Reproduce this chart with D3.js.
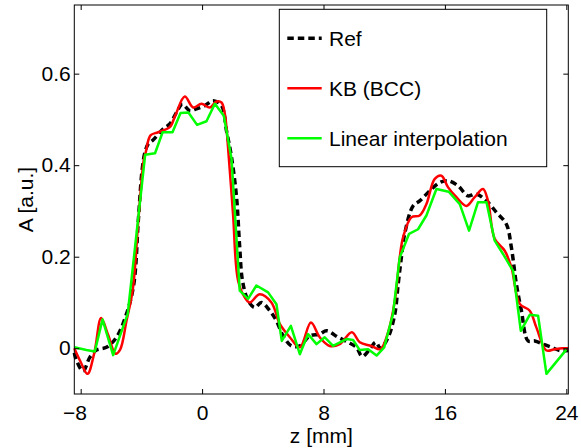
<!DOCTYPE html>
<html>
<head>
<meta charset="utf-8">
<script src="https://cdn.jsdelivr.net/npm/d3@7"></script>
<style>
  body { margin: 0; background: #fff; }
  text { font-family: "Liberation Sans", Arial, sans-serif; }
</style>
</head>
<body>
<svg id="chart" width="581" height="448"></svg>
<script>
// values (z in mm, A in a.u.)
const zRef = [-8.42, -8.27, -7.84, -7.4, -6.96, -6.3, -5.64, -4.98, -4.5, -4.2, -3.95, -3.75, -3.56, -3.23, -2.57, -2.13, -1.69, -1.3, -0.81, -0.37, 0.18, 0.72, 1.28, 1.61, 1.94, 2.27, 2.48, 2.66, 3.03, 3.47, 3.91, 4.46, 4.9, 5.34, 5.89, 6.44, 7.09, 7.75, 8.2, 8.96, 9.62, 10.17, 10.55, 11.05, 11.45, 11.75, 12.26, 12.7, 12.92, 13.13, 13.35, 13.9, 14.34, 15.0, 15.66, 16.2, 16.86, 17.52, 18.07, 18.74, 19.39, 20.05, 20.38, 20.71, 21.04, 21.48, 21.92, 22.47, 23.02, 23.56, 24.13]
const aRef = [-0.01, -0.027, -0.05, -0.02, -0.004, 0.002, 0.024, 0.075, 0.14, 0.28, 0.39, 0.43, 0.446, 0.455, 0.479, 0.49, 0.515, 0.533, 0.519, 0.523, 0.53, 0.541, 0.53, 0.475, 0.417, 0.33, 0.22, 0.148, 0.104, 0.089, 0.1, 0.082, 0.06, 0.027, 0.005, 0.005, 0.027, 0.031, 0.038, 0.024, 0.013, 0.002, -0.018, -0.002, 0.013, 0.0, 0.024, 0.075, 0.14, 0.198, 0.25, 0.311, 0.322, 0.344, 0.362, 0.366, 0.355, 0.333, 0.337, 0.322, 0.297, 0.271, 0.22, 0.14, 0.082, 0.016, 0.016, 0.009, 0.002, -0.005, -0.005]

const zKB = [-8.42, -8.0, -7.55, -7.1, -6.65, -6.2, -5.7, -5.4, -4.98, -4.56, -4.2, -3.85, -3.7, -3.4, -2.9, -2.13, -1.75, -1.14, -0.59, -0.04, 0.51, 0.95, 1.28, 1.5, 1.71, 2.04, 2.37, 2.81, 3.14, 3.8, 4.57, 5.12, 5.78, 6.44, 7.17, 7.75, 8.41, 9.07, 9.87, 10.39, 11.16, 11.75, 12.26, 12.7, 13.02, 13.24, 13.79, 14.34, 14.78, 15.33, 15.77, 16.2, 16.76, 17.42, 17.96, 18.51, 18.84, 19.28, 19.94, 20.38, 20.93, 21.59, 22.03, 22.69, 23.23, 23.78, 24.13]
const aKB = [0.0, -0.03, -0.056, -0.01, 0.066, 0.03, -0.012, -0.003, 0.06, 0.13, 0.28, 0.41, 0.43, 0.465, 0.472, 0.483, 0.51, 0.55, 0.526, 0.534, 0.526, 0.539, 0.537, 0.512, 0.439, 0.293, 0.148, 0.111, 0.1, 0.118, 0.1, 0.053, 0.024, 0.002, 0.056, 0.024, 0.005, 0.009, 0.035, 0.013, 0.005, -0.002, 0.035, 0.104, 0.198, 0.242, 0.286, 0.29, 0.315, 0.37, 0.377, 0.352, 0.33, 0.311, 0.33, 0.348, 0.322, 0.239, 0.213, 0.177, 0.097, 0.082, 0.045, -0.005, -0.002, 0.0, 0.0]

const zLin = [-8.42, -7.62, -7.07, -6.56, -5.86, -4.9, -3.75, -3.1, -2.6, -1.95, -1.42, -0.9, -0.33, 0.29, 0.84, 1.43, 1.94, 2.48, 3.03, 3.58, 4.35, 4.9, 5.25, 5.85, 6.44, 6.98, 7.54, 8.08, 8.63, 9.51, 9.95, 10.39, 10.94, 11.5, 12.0, 12.58, 13.02, 13.64, 14.23, 14.78, 15.44, 16.25, 16.98, 17.59, 18.18, 18.74, 19.28, 19.83, 20.49, 21.0, 21.59, 22.14, 22.69, 24.0]
const aLin = [0.002, -0.004, -0.007, 0.063, -0.015, 0.075, 0.423, 0.426, 0.472, 0.472, 0.514, 0.515, 0.488, 0.496, 0.534, 0.508, 0.414, 0.126, 0.108, 0.137, 0.122, 0.096, 0.016, 0.049, -0.013, 0.031, 0.009, 0.024, 0.005, 0.02, 0.018, -0.004, -0.002, -0.016, 0.002, 0.075, 0.198, 0.25, 0.26, 0.29, 0.348, 0.342, 0.315, 0.257, 0.319, 0.319, 0.235, 0.206, 0.169, 0.038, 0.073, 0.071, -0.056, -0.003]

const xTicks = [-8, 0, 8, 16, 24]
const yTicks = [0, 0.2, 0.4, 0.6]
const legendNames = ["Ref", "KB (BCC)", "Linear interpolation"]

const fs = 21
const plotLeft = 74.3, plotRight = 568.3, plotTop = 5, plotBottom = 394

const svg = d3.select("#chart")

const xScale = d3.scaleLinear().domain([-8.42, 24.13]).range([plotLeft, plotRight])
const yScale = d3.scaleLinear().domain([-0.1, 0.75]).range([plotBottom, plotTop])

const series = [
  { z: zRef, a: aRef, color: "#000", width: 3.5, dash: "6.5,4", curve: d3.curveCatmullRom },
  { z: zKB, a: aKB, color: "#ff0000", width: 2.5, dash: null, curve: d3.curveCatmullRom },
  { z: zLin, a: aLin, color: "#00ff00", width: 2.5, dash: null, curve: d3.curveLinear }
]

const plot = svg.append("g")

// ref first, then KB, linear on top
series.forEach(s => {
  const line = d3.line()
    .x(d => xScale(d[0]))
    .y(d => yScale(d[1]))
    .curve(s.curve)
  plot.append("path")
    .datum(s.z.map((z, i) => [z, s.a[i]]))
    .attr("d", line)
    .attr("fill", "none")
    .attr("stroke", s.color)
    .attr("stroke-width", s.width)
    .attr("stroke-dasharray", s.dash)
    .attr("stroke-linejoin", "round")
})

// axes, ticks pointing inward on all four sides
const xAxis = d3.axisBottom(xScale).tickValues(xTicks).tickSizeInner(-5).tickSizeOuter(0).tickPadding(11)
  .tickFormat(d => d < 0 ? "\u2212" + Math.abs(d) : d)
const yAxis = d3.axisLeft(yScale).tickValues(yTicks).tickSizeInner(-5).tickSizeOuter(0).tickPadding(3.6)
  .tickFormat(d => d === 0 ? "0" : d3.format(".1f")(d))

const gx = svg.append("g").attr("transform", `translate(0,${plotBottom})`).call(xAxis)
const gy = svg.append("g").attr("transform", `translate(${plotLeft},0)`).call(yAxis)
svg.append("g").attr("transform", `translate(0,${plotTop})`)
  .call(d3.axisTop(xScale).tickValues(xTicks).tickSizeInner(-5).tickSizeOuter(0).tickFormat(""))
svg.append("g").attr("transform", `translate(${plotRight},0)`)
  .call(d3.axisRight(yScale).tickValues(yTicks).tickSizeInner(-5).tickSizeOuter(0).tickFormat(""))

svg.selectAll(".domain").remove()
svg.selectAll(".tick line").attr("stroke", "#000").attr("stroke-width", 1)
svg.selectAll(".tick text").attr("font-size", fs).attr("fill", "#000")
  .style("font-family", "'Liberation Sans', Arial, sans-serif")

// minus sign hangs to the left of the centred digits
gx.selectAll(".tick text").filter(d => d < 0)
  .attr("text-anchor", "end").attr("x", fs * 0.278)

svg.append("rect")
  .attr("x", plotLeft).attr("y", plotTop)
  .attr("width", plotRight - plotLeft).attr("height", plotBottom - plotTop)
  .attr("fill", "none").attr("stroke", "#000").attr("stroke-width", 1)

svg.append("text")
  .attr("x", (plotLeft + plotRight) / 2).attr("y", 443)
  .attr("text-anchor", "middle").attr("font-size", fs)
  .text("z [mm]")

svg.append("text")
  .attr("transform", `translate(33,${(plotTop + plotBottom) / 2}) rotate(-90)`)
  .attr("text-anchor", "middle").attr("font-size", fs)
  .text("A [a.u.]")

// legend
const legend = svg.append("g").attr("id", "legend")
legend.append("rect")
  .attr("x", 279.3).attr("y", 9.3).attr("width", 267.4).attr("height", 157.4)
  .attr("fill", "#fff").attr("stroke", "#000").attr("stroke-width", 1)

legendNames.forEach((name, i) => {
  const y = 38.3 + i * 50
  legend.append("line")
    .attr("x1", 287.3).attr("x2", 321.7).attr("y1", y).attr("y2", y)
    .attr("stroke", series[i].color)
    .attr("stroke-width", series[i].width)
    .attr("stroke-dasharray", series[i].dash)
  legend.append("text")
    .attr("x", 329).attr("y", y).attr("dy", "0.35em")
    .attr("font-size", fs)
    .text(name)
})
</script>
</body>
</html>
